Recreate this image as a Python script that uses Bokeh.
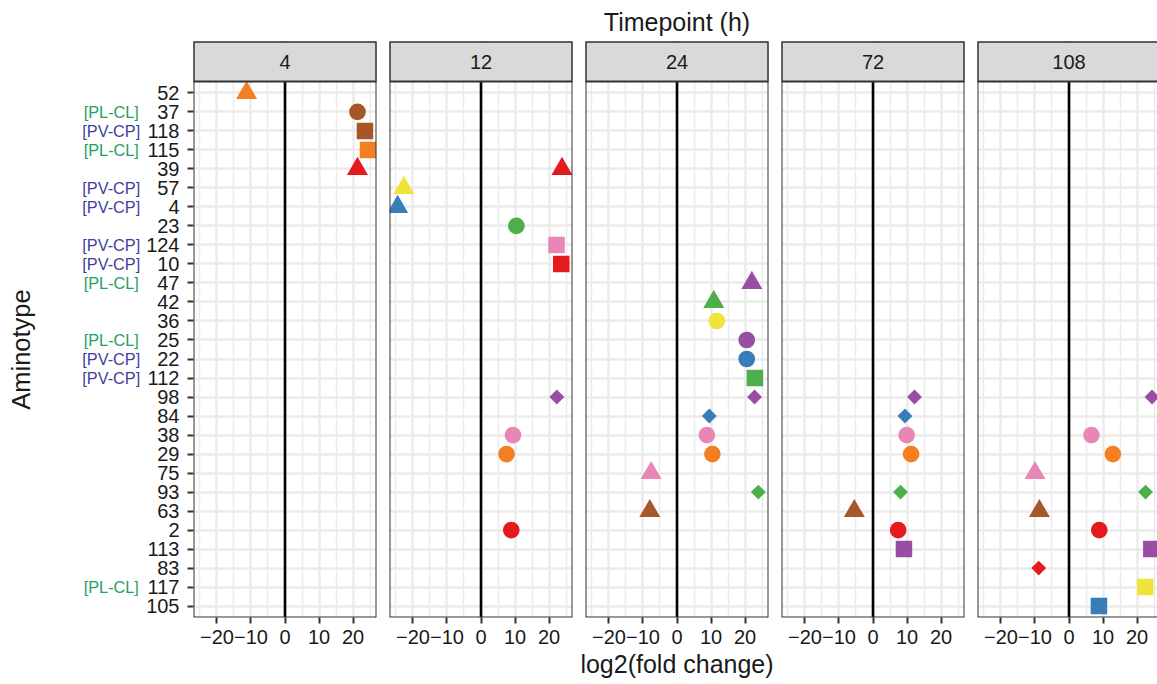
import math
from bokeh.plotting import figure
from bokeh.models import Range1d, FixedTicker, ColumnDataSource, Span
from bokeh.layouts import row
from bokeh.embed import file_html
from bokeh.resources import INLINE
from bokeh.core.properties import value

# ---------------- data ----------------
aminotypes = ["52", "37", "118", "115", "39", "57", "4", "23", "124", "10",
              "47", "42", "36", "25", "22", "112", "98", "84", "38", "29",
              "75", "93", "63", "2", "113", "83", "117", "105"]

annot_types = ["37", "118", "115", "57", "4", "124", "10", "47", "25", "22", "112", "117"]
annot_tags = ["[PL-CL]", "[PV-CP]", "[PL-CL]", "[PV-CP]", "[PV-CP]", "[PV-CP]",
              "[PV-CP]", "[PL-CL]", "[PL-CL]", "[PV-CP]", "[PV-CP]", "[PL-CL]"]

timepoints = ["4", "12", "24", "72", "108"]

t4_types = ["52", "37", "118", "115", "39"]
t4_fc = [-11.3, 21.3, 23.5, 24.4, 21.3]

t12_types = ["39", "57", "4", "23", "124", "10", "98", "38", "29", "2"]
t12_fc = [23.8, -22.7, -24.5, 10.4, 22.2, 23.6, 22.3, 9.4, 7.5, 8.9]

t24_types = ["47", "42", "36", "25", "22", "112", "98", "84", "38", "29", "75", "93", "63"]
t24_fc = [22.0, 10.8, 11.7, 20.5, 20.5, 22.9, 22.8, 9.5, 8.8, 10.4, -7.6, 23.9, -8.0]

t72_types = ["98", "84", "38", "29", "93", "63", "2", "113"]
t72_fc = [12.2, 9.4, 9.9, 11.2, 8.1, -5.5, 7.4, 9.1]

t108_types = ["98", "38", "29", "75", "93", "63", "2", "113", "83", "117", "105"]
t108_fc = [24.4, 6.6, 12.9, -10.0, 22.5, -8.7, 8.9, 24.2, -8.9, 22.4, 8.8]

x_ticks = [-20, -10, 0, 10, 20]
x_minor = [-25, -15, -5, 5, 15, 25]

# ---------------- style ----------------
PAL = {"red": "#E41A1C", "blue": "#377EB8", "green": "#4DAF4A", "purple": "#984EA3",
       "orange": "#F47F20", "yellow": "#F0E43A", "brown": "#A65628", "pink": "#EA86B6"}
STYLE = {
    "52": ("orange", "triangle"), "37": ("brown", "circle"), "118": ("brown", "square"),
    "115": ("orange", "square"), "39": ("red", "triangle"), "57": ("yellow", "triangle"),
    "4": ("blue", "triangle"), "23": ("green", "circle"), "124": ("pink", "square"),
    "10": ("red", "square"), "47": ("purple", "triangle"), "42": ("green", "triangle"),
    "36": ("yellow", "circle"), "25": ("purple", "circle"), "22": ("blue", "circle"),
    "112": ("green", "square"), "98": ("purple", "diamond"), "84": ("blue", "diamond"),
    "38": ("pink", "circle"), "29": ("orange", "circle"), "75": ("pink", "triangle"),
    "93": ("green", "diamond"), "63": ("brown", "triangle"), "2": ("red", "circle"),
    "113": ("purple", "square"), "83": ("red", "diamond"), "117": ("yellow", "square"),
    "105": ("blue", "square"),
}
SHAPE = {"circle": ("circle", 16.7, 0.0), "square": ("square", 16.5, 0.0),
         "triangle": ("triangle", 21.0, 0.0), "diamond": ("square", 10.5, math.pi / 4)}
TAG_COLOR = {"[PL-CL]": "#1FA060", "[PV-CP]": "#3F3FA0"}

FONT = "Liberation Sans"
TXT = "#1A1A1A"
GRID = "#EBEBEB"
BORDER = "#333333"

n = len(aminotypes)
Y_OF = {a: n - 1 - i for i, a in enumerate(aminotypes)}

H = 684
TOP = 41
BOTTOM = 67
FRAME_W = 183
GAP_L = 6
GAP_R = 7
LEFT_W = 143      # width of the annotation column
AXIS_W = 50       # room for the numeric y axis
Y0, Y1 = -0.6, n - 1 + 0.6
STRIP_PX = 40
panel_px = H - TOP - BOTTOM - STRIP_PX
upp = (Y1 - Y0) / panel_px
Y_TOP = Y1 + STRIP_PX * upp
X0, X1 = -26.9, 26.9
xupp = (X1 - X0) / FRAME_W

series = [(t4_types, t4_fc), (t12_types, t12_fc), (t24_types, t24_fc),
          (t72_types, t72_fc), (t108_types, t108_fc)]

# ------------- annotation / y title column (pixel x-range) -------------
f0 = figure(width=LEFT_W, height=H, x_range=Range1d(0, LEFT_W), y_range=Range1d(Y0, Y_TOP),
            min_border_left=0, min_border_right=0, min_border_top=TOP,
            min_border_bottom=BOTTOM, x_axis_location=None, y_axis_location=None,
            toolbar_location=None, output_backend="svg", outline_line_color=None)
f0.xgrid.visible = False
f0.ygrid.visible = False
asrc = ColumnDataSource(dict(
    x=[110.8] * len(annot_types),
    y=[Y_OF[a] for a in annot_types],
    text=annot_tags,
    color=[TAG_COLOR[t] for t in annot_tags],
))
f0.text(x="x", y="y", text="text", source=asrc, text_color="color",
        text_align="center", text_baseline="middle",
        text_font=value(FONT), text_font_size="16.3px")
f0.text(x=[20], y=[(Y0 + Y1) / 2], text=["Aminotype"], angle=math.pi / 2,
        text_align="center", text_baseline="middle", text_color=TXT,
        text_font=value(FONT), text_font_size="25.5px")

figs = [f0]
for k, (tp, (types, fcs)) in enumerate(zip(timepoints, series)):
    first = k == 0
    last = k == len(timepoints) - 1
    fw = FRAME_W - 3 if last else FRAME_W
    xr = Range1d(X0, X0 + fw * xupp)
    left = AXIS_W if first else GAP_L
    right = 0 if last else GAP_R
    kw = {}
    if k == 2:
        kw["title"] = "Timepoint (h)"
    p = figure(width=left + fw + right, height=H, x_range=xr, y_range=Range1d(Y0, Y_TOP),
               min_border_left=left, min_border_right=right, min_border_top=TOP,
               min_border_bottom=BOTTOM, y_axis_location="left" if first else None,
               toolbar_location=None, output_backend="svg",
               outline_line_color=None,
               background_fill_color="white", border_fill_color="white", **kw)
    if k == 2:
        p.title.align = "center"
        p.title.text_font = FONT
        p.title.text_font_size = "25px"
        p.title.text_font_style = "normal"
        p.title.text_color = TXT
        p.title.standoff = 11
    # grids
    p.xgrid.ticker = FixedTicker(ticks=x_ticks, minor_ticks=x_minor)
    p.xgrid.grid_line_color = GRID
    p.xgrid.grid_line_width = 2.4
    p.xgrid.minor_grid_line_color = GRID
    p.xgrid.minor_grid_line_width = 1.5
    p.ygrid.ticker = FixedTicker(ticks=list(range(n)))
    p.ygrid.grid_line_color = GRID
    p.ygrid.grid_line_width = 2.4
    # x axis
    ax = p.xaxis[0]
    ax.ticker = FixedTicker(ticks=x_ticks, minor_ticks=x_minor)
    ax.major_label_overrides = {-20: "\u221220", -10: "\u221210"}
    ax.axis_line_color = None
    ax.minor_tick_line_color = None
    ax.major_tick_line_color = BORDER
    ax.major_tick_line_width = 2
    ax.major_tick_out = 6
    ax.major_tick_in = 0
    ax.major_label_standoff = 6
    ax.major_label_text_font = FONT
    ax.major_label_text_font_size = "20px"
    ax.major_label_text_color = TXT
    if k == 2:
        ax.axis_label = "log2(fold change)"
        ax.axis_label_text_font = FONT
        ax.axis_label_text_font_size = "25px"
        ax.axis_label_text_font_style = "normal"
        ax.axis_label_text_color = TXT
        ax.axis_label_standoff = 3
    if first:
        ay = p.yaxis[0]
        ay.ticker = FixedTicker(ticks=list(range(n)))
        ay.major_label_overrides = {Y_OF[a]: a for a in aminotypes}
        ay.axis_line_color = None
        ay.minor_tick_line_color = None
        ay.major_tick_line_color = BORDER
        ay.major_tick_line_width = 2
        ay.major_tick_out = 6
        ay.major_tick_in = 0
        ay.major_label_standoff = 8
        ay.major_label_text_font = FONT
        ay.major_label_text_font_size = "20px"
        ay.major_label_text_color = TXT
    # zero line
    p.add_layout(Span(location=0, dimension="height", level="underlay",
                      line_color="black", line_width=2.6))
    # points
    src = ColumnDataSource(dict(
        x=fcs,
        y=[Y_OF[t] for t in types],
        color=[PAL[STYLE[t][0]] for t in types],
        marker=[SHAPE[STYLE[t][1]][0] for t in types],
        size=[SHAPE[STYLE[t][1]][1] for t in types],
        angle=[SHAPE[STYLE[t][1]][2] for t in types],
    ))
    p.scatter(x="x", y="y", source=src, marker="marker", size="size", angle="angle",
              fill_color="color", line_color=None)
    # strip
    p.quad(left=[xr.start], right=[X1], bottom=[Y1], top=[Y_TOP],
           fill_color="#D9D9D9", line_color=BORDER, line_width=2)
    p.text(x=[0], y=[(Y1 + Y_TOP) / 2], text=[tp], text_align="center",
           text_baseline="middle", text_font=value(FONT), text_font_size="20px",
           text_color=TXT)
    # panel borders (drawn on top)
    p.add_layout(Span(location=xr.start, dimension="height", line_color=BORDER, line_width=2))
    if not last:
        p.add_layout(Span(location=xr.end, dimension="height", line_color=BORDER, line_width=2))
    p.add_layout(Span(location=Y_TOP, dimension="width", line_color=BORDER, line_width=2))
    p.add_layout(Span(location=Y0, dimension="width", line_color=BORDER, line_width=2))
    figs.append(p)

layout = row(*figs)
open("out.html", "w").write(file_html(layout, INLINE))
